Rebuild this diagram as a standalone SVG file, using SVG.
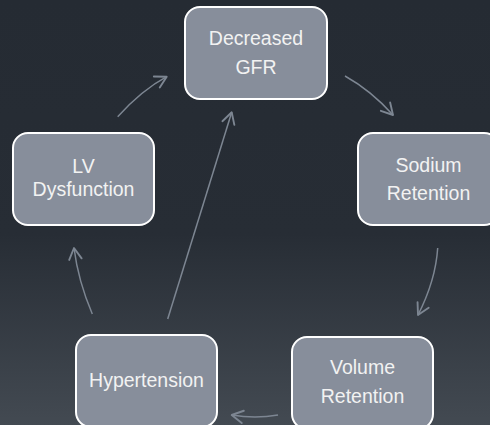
<svg xmlns="http://www.w3.org/2000/svg" width="490" height="425" viewBox="0 0 490 425">
  <defs>
    <linearGradient id="bg" x1="0" y1="0" x2="0" y2="1">
      <stop offset="0" stop-color="#252b33"/>
      <stop offset="0.55" stop-color="#272d35"/>
      <stop offset="1" stop-color="#434a52"/>
    </linearGradient>
    <marker id="arr" markerUnits="userSpaceOnUse" markerWidth="20" markerHeight="20" viewBox="-12 -8 16 16" refX="0" refY="0" orient="auto">
      <path d="M-9,-5 L0,0 L-9,5" fill="none" stroke="#7d8692" stroke-width="1.5" stroke-linecap="round" stroke-linejoin="round"/>
    </marker>
    <style>
      .box { fill: #878e9b; stroke: #ffffff; stroke-width: 2; }
      .lbl { font-family: "Liberation Sans", Arial, sans-serif; font-size: 19.5px; fill: #f2f2f2; text-anchor: middle; }
      .conn { fill: none; stroke: #7d8692; stroke-width: 1.5; marker-end: url(#arr); }
    </style>
  </defs>
  <rect x="0" y="0" width="490" height="425" fill="url(#bg)"/>
  <g id="connectors">
    <path class="conn" d="M345,76 Q371,90.5 393,115"/>
    <path class="conn" d="M437.7,248 Q435.6,280.5 418,315"/>
    <path class="conn" d="M278,415 Q255,419 231.7,415"/>
    <path class="conn" d="M92.3,314 Q78.2,281 74,248"/>
    <path class="conn" d="M117.7,116.7 Q142.2,89.9 166.7,76.7"/>
    <path class="conn" d="M167.7,319 L231.7,112.3"/>
  </g>
  <g id="decreased-gfr">
    <rect class="box" x="185" y="7" width="142" height="92" rx="15"/>
    <text class="lbl" x="256" y="45">Decreased</text>
    <text class="lbl" x="256" y="74">GFR</text>
  </g>
  <g id="sodium-retention">
    <rect class="box" x="358" y="133" width="141" height="92" rx="15"/>
    <text class="lbl" x="428.5" y="171.5">Sodium</text>
    <text class="lbl" x="428.5" y="200">Retention</text>
  </g>
  <g id="volume-retention">
    <rect class="box" x="292" y="337" width="141" height="92" rx="15"/>
    <text class="lbl" x="362.5" y="374">Volume</text>
    <text class="lbl" x="362.5" y="403">Retention</text>
  </g>
  <g id="hypertension">
    <rect class="box" x="76" y="335" width="141" height="92" rx="15"/>
    <text class="lbl" x="146.5" y="387">Hypertension</text>
  </g>
  <g id="lv-dysfunction">
    <rect class="box" x="13" y="133" width="141" height="92" rx="15"/>
    <text class="lbl" x="83.5" y="173">LV</text>
    <text class="lbl" x="83.5" y="195.5">Dysfunction</text>
  </g>
</svg>
